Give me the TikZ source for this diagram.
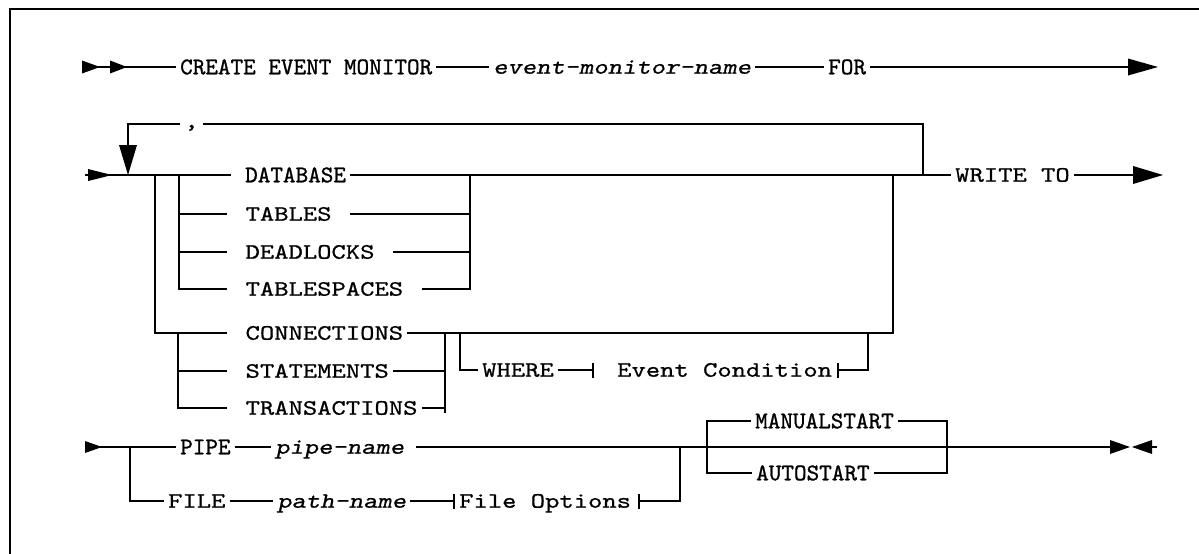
\documentclass[tikz,border=0pt]{standalone}
\usepackage{fontspec}
\newfontfamily\regfont{lmmono10-regular}[Extension=.otf, ItalicFont=lmmonoslant10-regular, FakeStretch=1.24, FakeBold=0.8]
\newfontfamily\condfont{lmmono10-regular}[Extension=.otf, FakeBold=1]
\newcommand\tipR[4]{\fill (#1,#2) -- ++(-#3,#4) -- ++(0,-2*#4) -- cycle;}
\newcommand\tipL[4]{\fill (#1,#2) -- ++(#3,#4) -- ++(0,-2*#4) -- cycle;}
\newcommand\tipD[4]{\fill (#1,#2) -- ++(#4,-#3) -- ++(-2*#4,0) -- cycle;}
\newcommand\gapsp{\kern14.4pt}
\tikzset{
  ln/.style={line width=1.6pt},
  frame/.style={line width=1.6pt},
  txtbase/.style={anchor=west, inner xsep=4pt, inner ysep=0pt, text depth=0pt},
  kw/.style={txtbase, text height=13.4pt, font=\regfont\fontsize{22}{22}\selectfont},
  ckw/.style={txtbase, text height=14.6pt, font=\condfont\fontsize{24}{24}\selectfont},
  var/.style={txtbase, text height=13.4pt, font=\regfont\itshape\fontsize{22}{22}\selectfont},
}
\begin{document}
\begin{tikzpicture}[x=1pt,y=-1pt]
\useasboundingbox (0,0) rectangle (1199,554);
\draw[frame] (10,554) -- (10,9) -- (1199,9);

% ---------- Row 1 ----------
\coordinate (r1s) at (82,67);
\node[ckw] (create) at (176,67) {CREATE EVENT MONITOR};
\node[var] (emn) at (489,67) {event-monitor-name};
\node[ckw] (for) at (824,67) {FOR};
\coordinate (r1e) at (1130,67);
\draw[ln] (r1s) -- (create) -- (emn) -- (for) -- (r1e);
\tipR{100}{67}{18}{6.5}
\tipR{127}{67}{17}{6.5}
\tipR{1158}{67}{30}{8.5}

% ---------- Row 2 ----------
\coordinate (r2s) at (85,175);
\coordinate (lp) at (128,175);
\coordinate (lt) at (128,124);
\coordinate (j1) at (155,175);
\coordinate (j2) at (179,175);
\coordinate (j3) at (470,175);
\coordinate (j4) at (893,175);
\coordinate (j5) at (923,175);
\coordinate (r2e) at (1135,175);
\node[ckw] (db) at (231,175) {\kern10pt DATABASE};
\node[kw] (wt) at (951,175) {WRITE TO};
\node[kw] (comma) at (180,124) {\raisebox{3pt}{,}};
\draw[ln] (r2s) -- (db) -- (wt) -- (r2e);
\tipR{112}{175}{24}{6}
\tipR{1163}{175}{30}{9}
% repeat loop
\draw[ln] (j5) -- (j5 |- lt) -- (comma) -- (lt) -- (128,146);
\tipD{128}{175}{30}{9}

% first group
\node[kw] (tb) at (227,214) {\gapsp TABLES\gapsp};
\node[kw] (dl) at (227,252) {\gapsp DEADLOCKS\gapsp};
\node[kw] (ts) at (227,289) {\gapsp TABLESPACES\gapsp};
\draw[ln] (j2) |- (tb);
\draw[ln] (j2) |- (dl);
\draw[ln] (j2) |- (ts);
\draw[ln] (tb) -| (j3);
\draw[ln] (dl) -| (j3);
\draw[ln] (ts) -| (j3);

% second group
\node[kw] (cn) at (227,333) {\gapsp CONNECTIONS};
\node[kw] (st) at (227,371) {\gapsp STATEMENTS};
\node[kw] (tr) at (227,408) {\gapsp TRANSACTIONS};
\coordinate (j6) at (178,333);
\coordinate (j7) at (445,333);
\coordinate (j7b) at (445,413);
\coordinate (j8) at (460,333);
\draw[ln] (j1) |- (cn);
\draw[ln] (cn) -| (j4);
\draw[ln] (j6) |- (st);
\draw[ln] (j6) |- (tr);
\draw[ln] (st) -| (j7);
\draw[ln] (tr) -| (j7);
\draw[ln] (j7) -- (j7b);

% WHERE branch
\node[kw] (wh) at (478,370) {WHERE};
\coordinate (ecl) at (593,370);
\node[kw] (ec) at (613,370) {Event Condition};
\coordinate (ecr) at (838,370);
\coordinate (j9) at (868,370);
\coordinate (j9t) at (868,333);
\draw[ln] (j8) |- (wh);
\draw[ln] (wh) -- (ecl);
\draw[ln] ([yshift=7.5pt]ecl) -- ([yshift=-7.5pt]ecl);
\draw[ln] ([yshift=7.5pt]ecr) -- ([yshift=-7.5pt]ecr);
\draw[ln] (ecr) -- (j9) -- (j9t);

% ---------- Row 3 ----------
\coordinate (r3s) at (85,447);
\coordinate (k1) at (130,447);
\coordinate (k2) at (680,447);
\coordinate (k3) at (707,447);
\coordinate (k4) at (947,447);
\coordinate (r3e) at (1112,447);
\coordinate (r3g) at (1134,447);
\coordinate (r3f) at (1157,447);
\node[ckw] (pipe) at (176,447) {PIPE};
\node[var] (pn) at (271,447) {pipe-name\kern8pt};
\draw[ln] (r3s) -- (pipe) -- (pn) -- (r3e);
\draw[ln] (r3g) -- (r3f);
\tipR{102}{447}{17}{6}
\tipR{1130}{447}{20}{7}
\tipL{1132}{447}{20}{7}

% FILE branch
\node[kw] (file) at (164,501) {FILE};
\node[var] (path) at (273,501) {path-name};
\coordinate (fol) at (454,501);
\node[kw] (fo) at (455,501) {File Options};
\coordinate (for2) at (639,501);
\coordinate (k2b) at (680,501);
\draw[ln] (k1) |- (file);
\draw[ln] (file) -- (path) -- (fol);
\draw[ln] ([yshift=7.5pt]fol) -- ([yshift=-7.5pt]fol);
\draw[ln] ([yshift=7.5pt]for2) -- ([yshift=-7.5pt]for2);
\draw[ln] (for2) -- (k2b) -- (k2);

% MANUALSTART / AUTOSTART
\node[ckw] (ms) at (751,421) {MANUALSTART};
\node[ckw] (as) at (752,473) {AUTOSTART};
\draw[ln] (k3) |- (ms);
\draw[ln] (ms) -| (k4);
\draw[ln] (k3) |- (as);
\draw[ln] (as) -| (k4);
\end{tikzpicture}
\end{document}
